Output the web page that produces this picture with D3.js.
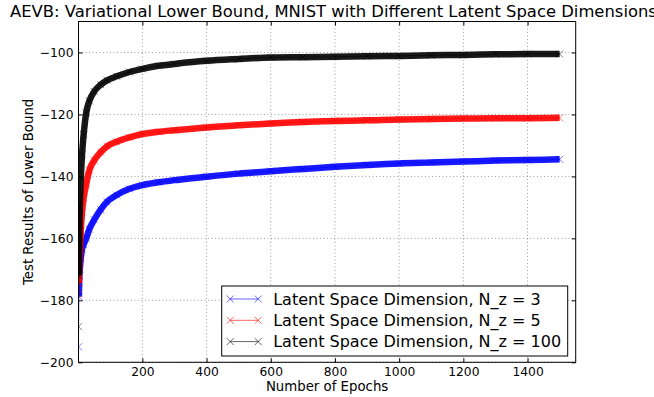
<!DOCTYPE html>
<html>
<head>
<meta charset="utf-8">
<script src="https://cdn.jsdelivr.net/npm/d3@7"></script>
<style>
    body { margin: 0; background: #fff; }
    text { font-family: "DejaVu Sans", sans-serif; fill: #000; }
    .grade line { stroke: #000; stroke-opacity: 0.55; stroke-width: 0.7; stroke-dasharray: 1,2.5; }
</style>
</head>
<body>
<div id="grafico"></div>
<script>
// Dados
const epocas = [1, 2, 3, 5, 8, 12, 17, 25, 35, 50, 70, 90, 120, 160, 200, 250, 300,
    400, 500, 600, 700, 800, 900, 1000, 1100, 1200, 1300, 1400, 1500];
const limiteNz3 = [-195, -178.8, -174, -170, -166.5, -163.5, -162, -160, -157, -154,
    -150.7, -148.2, -146, -144, -142.8, -141.9, -141.2, -140.1, -139.1, -138.3, -137.6,
    -136.9, -136.3, -135.8, -135.5, -135.2, -134.9, -134.7, -134.5];
const limiteNz5 = [-178, -174.5, -170, -165, -157.5, -151.5, -147, -142.5, -138, -134.8,
    -132.2, -130.3, -128.8, -127.4, -126.3, -125.6, -125.1, -124.2, -123.5, -122.9, -122.4,
    -122.1, -121.9, -121.6, -121.5, -121.3, -121.2, -121.2, -121.1];
const limiteNz100 = [-188.5, -172, -162, -150, -141, -133, -126.5, -119.5, -115.6, -112.6,
    -110.4, -109, -107.7, -106.3, -105.3, -104.3, -103.7, -102.7, -102.1, -101.6, -101.5,
    -101.4, -101.2, -101.1, -100.9, -100.8, -100.6, -100.5, -100.5];
const rotulosSeries = ["Latent Space Dimension, N_z = 3", "Latent Space Dimension, N_z = 5",
    "Latent Space Dimension, N_z = 100"];
const coresSeries = ["#0000ff", "#ff0000", "#000000"];
const ticksX = [200, 400, 600, 800, 1000, 1200, 1400];
const ticksY = [-200, -180, -160, -140, -120, -100];

function criarGrafico() {
    const larguraTotal = 654;
    const alturaTotal = 397;
    const margem = { top: 21.5, right: 78.3, bottom: 34.7, left: 78.5 };
    const largura = larguraTotal - margem.left - margem.right;
    const altura = alturaTotal - margem.top - margem.bottom;

    const svg = d3.select("#grafico")
        .append("svg")
        .attr("width", larguraTotal)
        .attr("height", alturaTotal);

    // Título (cortado na borda direita, como no original)
    svg.append("text")
        .attr("x", 10)
        .attr("y", 17)
        .style("font-size", "16.4px")
        .text("AEVB: Variational Lower Bound, MNIST with Different Latent Space Dimensions");

    const g = svg.append("g")
        .attr("transform", `translate(${margem.left},${margem.top})`);

    // Escalas
    const x = d3.scaleLinear().domain([1, 1550]).range([0, largura]);
    const y = d3.scaleLinear().domain([-200, -90]).range([altura, 0]);

    // Grade pontilhada
    const grade = g.append("g").attr("class", "grade");
    grade.selectAll(".gx")
        .data(ticksX)
        .enter()
        .append("line")
        .attr("x1", d => x(d)).attr("x2", d => x(d))
        .attr("y1", 0).attr("y2", altura);
    grade.selectAll(".gy")
        .data(ticksY)
        .enter()
        .append("line")
        .attr("x1", 0).attr("x2", largura)
        .attr("y1", d => y(d)).attr("y2", d => y(d));

    // Curvas
    g.append("clipPath").attr("id", "recorte")
        .append("rect").attr("width", largura).attr("height", altura);
    const areaCurvas = g.append("g").attr("clip-path", "url(#recorte)");

    const series = [limiteNz3, limiteNz5, limiteNz100];
    const linha = d3.line()
        .x(d => x(d[0]))
        .y(d => y(d[1]))
        .curve(d3.curveMonotoneX);

    series.forEach((valores, i) => {
        const pontos = epocas.map((e, j) => [e, valores[j]]);
        const grupo = areaCurvas.append("g");

        // faixa espessa formada pelos marcadores densos
        grupo.append("path")
            .datum(pontos.slice(1))
            .attr("d", linha)
            .attr("fill", "none")
            .attr("stroke", coresSeries[i])
            .attr("stroke-opacity", 0.9)
            .attr("stroke-width", 6.5)
            .attr("stroke-linejoin", "round");

        grupo.append("path")
            .datum(pontos)
            .attr("d", linha)
            .attr("fill", "none")
            .attr("stroke", coresSeries[i])
            .attr("stroke-opacity", 0.5)
            .attr("stroke-width", 1);

        grupo.selectAll(".marcador")
            .data(pontos)
            .enter()
            .append("path")
            .attr("transform", d => `translate(${x(d[0])},${y(d[1])})`)
            .attr("d", "M-3.5,-3.5L3.5,3.5M-3.5,3.5L3.5,-3.5")
            .attr("stroke", coresSeries[i])
            .attr("stroke-opacity", 0.5)
            .attr("stroke-width", 1);
    });

    // Eixos com marcas para dentro nos quatro lados
    const eixoX = g.append("g")
        .attr("transform", `translate(0,${altura})`)
        .call(d3.axisBottom(x).tickValues(ticksX).tickSizeInner(-4).tickSizeOuter(0).tickPadding(5)
            .tickFormat(d3.format("d")));
    const eixoY = g.append("g")
        .call(d3.axisLeft(y).tickValues(ticksY).tickSizeInner(-4).tickSizeOuter(0).tickPadding(5)
            .tickFormat(d => "\u2212" + Math.abs(d)));
    g.append("g")
        .call(d3.axisTop(x).tickValues(ticksX).tickSizeInner(-4).tickSizeOuter(0).tickFormat(""));
    g.append("g")
        .attr("transform", `translate(${largura},0)`)
        .call(d3.axisRight(y).tickValues(ticksY).tickSizeInner(-4).tickSizeOuter(0).tickFormat(""));

    g.selectAll(".domain").remove();
    g.selectAll(".tick line").attr("stroke", "#000").attr("stroke-width", 1);
    eixoX.attr("font-size", null).selectAll("text").style("font-size", "12.3px").attr("fill", "#000");
    eixoY.attr("font-size", null).selectAll("text").style("font-size", "12.3px").attr("fill", "#000");

    // Moldura
    g.append("rect")
        .attr("width", largura)
        .attr("height", altura)
        .attr("fill", "none")
        .attr("stroke", "#000")
        .attr("stroke-width", 1);

    // Rótulos dos eixos
    svg.append("text")
        .attr("x", margem.left + largura / 2)
        .attr("y", 391)
        .attr("text-anchor", "middle")
        .style("font-size", "13.3px")
        .text("Number of Epochs");
    svg.append("text")
        .attr("transform", `translate(33,${margem.top + altura / 2}) rotate(-90)`)
        .attr("text-anchor", "middle")
        .style("font-size", "13.3px")
        .text("Test Results of Lower Bound");

    // Legenda
    const legenda = svg.append("g").attr("transform", "translate(221.7,286)");
    legenda.append("rect")
        .attr("width", 346)
        .attr("height", 70)
        .attr("fill", "#fff")
        .attr("stroke", "#000")
        .attr("stroke-width", 1);
    rotulosSeries.forEach((rotulo, i) => {
        const yl = 13 + i * 21.3;
        legenda.append("line")
            .attr("x1", 8.5).attr("x2", 36.5)
            .attr("y1", yl).attr("y2", yl)
            .attr("stroke", coresSeries[i])
            .attr("stroke-opacity", 0.6)
            .attr("stroke-width", 1);
        [8.5, 36.5].forEach(xm => {
            legenda.append("path")
                .attr("transform", `translate(${xm},${yl})`)
                .attr("d", "M-3.5,-3.5L3.5,3.5M-3.5,3.5L3.5,-3.5")
                .attr("stroke", coresSeries[i])
                .attr("stroke-opacity", 0.6)
                .attr("stroke-width", 1);
        });
        legenda.append("text")
            .attr("x", 51.5)
            .attr("y", yl)
            .attr("dy", "0.36em")
            .style("font-size", "16px")
            .text(rotulo);
    });
}

criarGrafico();
</script>
</body>
</html>
